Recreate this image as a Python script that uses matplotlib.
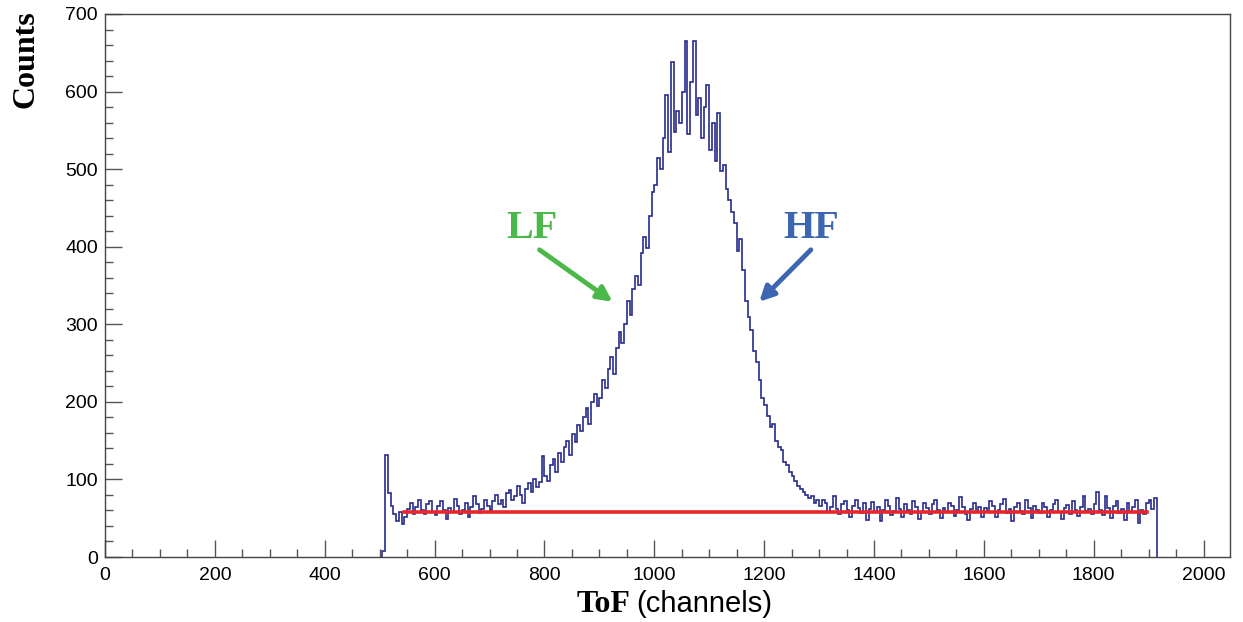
import numpy as np
import matplotlib
matplotlib.use('Agg')
import matplotlib.pyplot as plt
from matplotlib.ticker import MultipleLocator

# ToF spectrum, 5-channel bins starting at channel 505
bin_width = 5
first_channel = 505
seg_500 = [8, 131, 82, 66, 55, 47, 58, 43, 52, 62, 70, 55, 64, 74, 60, 56, 68, 72, 58]
seg_600 = [54, 66, 72, 60, 49, 63, 58, 75, 66, 55, 61, 70, 52, 64, 78, 68, 57, 62, 73, 66]
seg_700 = [60, 72, 80, 68, 74, 64, 82, 86, 73, 78, 92, 80, 70, 88, 95, 84, 100, 90, 97, 130]
seg_800 = [104, 98, 118, 126, 110, 134, 122, 142, 150, 132, 158, 148, 170, 162, 180, 192, 172, 200, 210, 195]
seg_900 = [205, 228, 218, 242, 258, 236, 270, 290, 276, 300, 330, 312, 345, 362, 350, 392, 412, 398, 440, 470]
seg_1000 = [480, 515, 500, 540, 595, 522, 638, 548, 575, 560, 600, 665, 545, 612, 665, 570, 592, 540, 580, 608]
seg_1100 = [525, 560, 510, 572, 498, 505, 475, 460, 445, 430, 395, 410, 370, 330, 310, 292, 265, 252, 228, 205]
seg_1200 = [196, 182, 168, 172, 150, 142, 138, 122, 118, 110, 104, 98, 92, 88, 84, 80, 76, 78, 70, 74]
seg_1300 = [66, 74, 70, 58, 64, 78, 62, 55, 68, 72, 60, 52, 66, 74, 63, 57, 70, 48, 62, 71]
seg_1400 = [58, 64, 47, 60, 73, 66, 54, 59, 76, 62, 52, 68, 61, 56, 72, 64, 49, 58, 70, 63]
seg_1500 = [55, 68, 74, 60, 50, 63, 58, 70, 66, 53, 61, 77, 64, 56, 48, 62, 70, 59, 65, 52]
seg_1600 = [63, 58, 72, 66, 51, 60, 68, 75, 57, 62, 47, 64, 70, 59, 55, 74, 63, 50, 66, 61]
seg_1700 = [57, 70, 64, 52, 61, 68, 74, 58, 49, 63, 67, 56, 72, 60, 53, 65, 78, 59, 62, 55]
seg_1800 = [68, 84, 60, 54, 78, 63, 50, 66, 72, 57, 62, 48, 70, 58, 65, 74, 44, 60, 55, 69, 73, 62, 76]

# flat background fit
fit_start, fit_end, fit_level = 545, 1897, 58

counts = np.array(seg_500 + seg_600 + seg_700 + seg_800 + seg_900 + seg_1000 + seg_1100
                  + seg_1200 + seg_1300 + seg_1400 + seg_1500 + seg_1600 + seg_1700 + seg_1800)
edges = first_channel + bin_width * np.arange(len(counts) + 1)

hist_color = '#272c8b'
serif = 'Liberation Serif'
sans = 'Liberation Sans'

fig = plt.figure(figsize=(12.43, 6.22), dpi=100)
ax = fig.add_axes([0.0845, 0.1045, 0.905, 0.873])

ax.stairs(counts, edges, baseline=0, color=hist_color, lw=1.2)
ax.plot([fit_start, fit_end], [fit_level, fit_level], color='#e8262a', lw=2.6)

ax.set_xlim(0, 2048)
ax.set_ylim(0, 700)
ax.xaxis.set_major_locator(MultipleLocator(200))
ax.xaxis.set_minor_locator(MultipleLocator(50))
ax.yaxis.set_major_locator(MultipleLocator(100))
ax.yaxis.set_minor_locator(MultipleLocator(20))
ax.tick_params(which='both', direction='in', color='#555555', width=1.0,
               top=False, right=False)
ax.tick_params(which='major', length=12, labelsize=14)
ax.tick_params(which='minor', length=6)
ax.tick_params(axis='x', pad=7)
ax.tick_params(axis='y', pad=5)
for lab in ax.get_xticklabels() + ax.get_yticklabels():
    lab.set_fontfamily(sans)
for sp in ax.spines.values():
    sp.set_color('#444444')
    sp.set_linewidth(1.0)

# axis titles
fig.text(0.021, 0.984, 'Counts', rotation=90, ha='center', va='top',
         fontfamily=serif, fontweight='bold', fontsize=23)
fig.text(0.507, 0.016, 'ToF', ha='right', va='baseline',
         fontfamily=serif, fontweight='bold', fontsize=23)
fig.text(0.512, 0.016, '(channels)', ha='left', va='baseline',
         fontfamily=sans, fontsize=21)

# LF / HF annotations
green = '#4bb849'
blue = '#3c66b1'
ax.text(778, 424, 'LF', color=green, ha='center', va='center',
        fontfamily=serif, fontweight='bold', fontsize=29)
ax.text(1286, 424, 'HF', color=blue, ha='center', va='center',
        fontfamily=serif, fontweight='bold', fontsize=29)
ax.annotate('', xy=(924, 329), xytext=(791, 396),
            arrowprops=dict(arrowstyle='-|>', color=green, lw=3.5, mutation_scale=22,
                            shrinkA=0, shrinkB=0))
ax.annotate('', xy=(1191, 329), xytext=(1285, 396),
            arrowprops=dict(arrowstyle='-|>', color=blue, lw=3.5, mutation_scale=22,
                            shrinkA=0, shrinkB=0))

fig.savefig('out.png', dpi=100)
